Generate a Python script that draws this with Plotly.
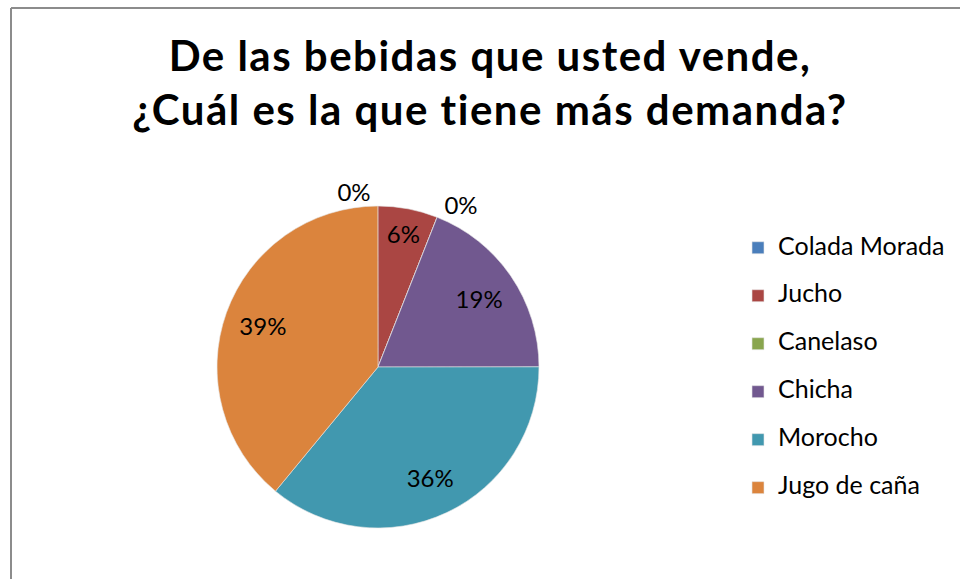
import plotly.graph_objects as go

# Data
categories = ["Colada Morada", "Jucho", "Canelaso", "Chicha", "Morocho", "Jugo de caña"]
percent_values = [0, 6, 0, 19, 36, 39]
colors = ["#4A7EBB", "#AA4643", "#89A54E", "#71588F", "#4198AF", "#DB843D"]

title_lines = ["De las bebidas que usted vende,", "¿Cuál es la que tiene más demanda?"]

W, H = 960, 579
FONT = "Lato"
LABEL_PX = 24
LEGEND_PX = 25
LEGEND_BASE = 17.3  # row spacing: 2 lines * 1.3 * base + 3 = 48px

legend_labels = [f"<span style='font-size:{LEGEND_PX}px'>{c}</span><br> " for c in categories]
text_pos = ["outside" if v == 0 else "inside" for v in percent_values]
pie_domain = dict(x=[217 / W, 539 / W], y=[1 - 528 / H, 1 - 206 / H])
ROT = -0.05  # tiny rotation so the first zero slice's label sits in the left half

fig = go.Figure()

# coloured slices + legend
fig.add_trace(go.Pie(
    labels=legend_labels,
    values=percent_values,
    sort=False,
    direction="clockwise",
    rotation=ROT,
    marker=dict(colors=colors, line=dict(color="#E6E6E6", width=0.6)),
    textinfo="none",
    hoverinfo="label+percent",
    domain=pie_domain,
    showlegend=True,
))

# percentage labels (transparent ring so labels sit at ~3/4 of the radius)
fig.add_trace(go.Pie(
    labels=categories,
    values=percent_values,
    sort=False,
    direction="clockwise",
    rotation=ROT,
    hole=0.52,
    marker=dict(colors=["rgba(0,0,0,0)"] * len(categories), line=dict(width=0)),
    texttemplate="%{percent:.0%}",
    textposition=text_pos,
    insidetextorientation="horizontal",
    textfont=dict(family=FONT, size=LABEL_PX, color="#000000"),
    insidetextfont=dict(family=FONT, size=LABEL_PX, color="#000000"),
    outsidetextfont=dict(family=FONT, size=LABEL_PX, color="#000000"),
    hoverinfo="skip",
    domain=pie_domain,
    showlegend=False,
))

title_text = "<br>".join(
    f"<span style='font-size:42px;letter-spacing:1.5px'>{t}</span>" for t in title_lines
)

fig.update_layout(
    width=W,
    height=H,
    margin=dict(l=0, r=0, t=0, b=0),
    paper_bgcolor="white",
    plot_bgcolor="white",
    font=dict(family=FONT, color="#000000"),
    title=dict(
        text=title_text,
        font=dict(family=FONT, size=41.5, color="#000000", weight="bold"),
        x=490 / W,
        xanchor="center",
        xref="container",
        yref="container",
        y=1 - 71 / H,
        yanchor="top",
    ),
    legend=dict(
        font=dict(family=FONT, size=LEGEND_BASE, color="#000000"),
        x=738 / W,
        xanchor="left",
        y=1 - 230 / H,
        yanchor="top",
        valign="top",
        bgcolor="rgba(0,0,0,0)",
        itemclick=False,
    ),
    shapes=[
        dict(type="line", xref="paper", yref="paper", x0=11 / W, x1=11 / W, y0=-0.1, y1=1 - 8 / H,
             line=dict(color="#8C8C8C", width=2)),
        dict(type="line", xref="paper", yref="paper", x0=11 / W, x1=1.1, y0=1 - 8 / H, y1=1 - 8 / H,
             line=dict(color="#8C8C8C", width=2)),
    ],
)

fig.write_html(
    "out.html",
    config={"displayModeBar": False},
    post_script="document.body.style.margin='0px';",
)
